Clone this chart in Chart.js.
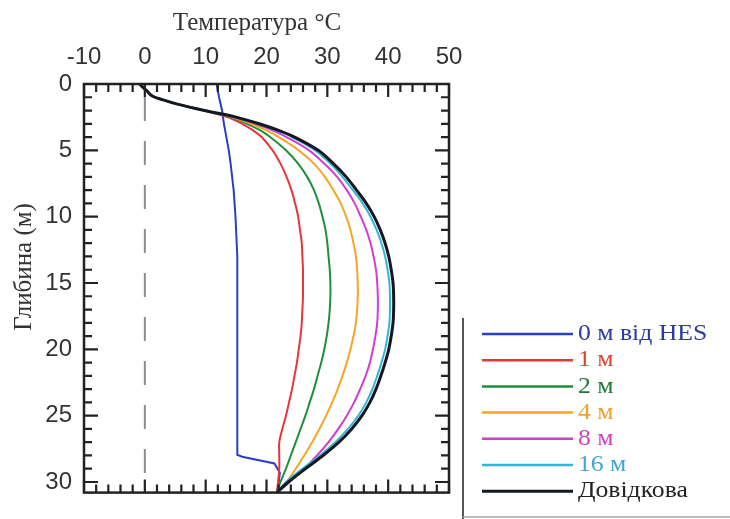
<!DOCTYPE html>
<html><head><meta charset="utf-8">
<script src="https://cdn.jsdelivr.net/npm/chart.js@4.4.0/dist/chart.umd.min.js"></script>
<style>html,body{margin:0;padding:0;background:#fff}#wrap{width:730px;height:519px;position:relative}</style>
</head><body><div id="wrap"><canvas id="c" width="730" height="519"></canvas></div>
<script>
// Depth (m) shared by the profiles
const depths = [0,0.5,0.9,1.2,1.5,2,2.5,3,3.5,4,5,6,7,8,9,10,11,12,13,14,15,16,17,18,19,20,21,22,23,24,25,26,27,28,29,30,30.8];
// common near-surface part (depth 0 .. 2 m)
const topPart = [-0.9,0.3,1.2,3.0,5.2,9.8];
const t1m  = topPart.concat([13.6,16.0,17.8,19.2,21.0,22.3,23.3,24.1,24.7,25.2,25.5,25.8,25.9,26.0,26.0,26.0,25.9,25.8,25.6,25.3,25.0,24.6,24.2,23.7,23.2,22.6,22.1,22.1,22.1,21.9,21.7]);
const t2m  = topPart.concat([14.0,16.8,19.0,20.6,23.2,25.2,26.7,27.8,28.6,29.2,29.7,30.0,30.2,30.4,30.5,30.5,30.4,30.2,29.9,29.5,29.0,28.4,27.8,27.1,26.4,25.6,24.8,24.0,23.2,22.3,21.7]);
const t4m  = topPart.concat([14.3,17.5,20.0,22.0,25.3,27.8,29.6,31.0,32.2,33.1,33.8,34.3,34.7,34.9,35.0,35.0,34.9,34.7,34.3,33.8,33.2,32.5,31.7,30.8,29.8,28.7,27.5,26.2,24.8,23.3,21.7]);
const t8m  = topPart.concat([14.6,18.2,21.0,23.3,27.0,29.5,31.6,33.2,34.5,35.5,36.4,37.1,37.6,38.0,38.2,38.3,38.3,38.2,37.9,37.5,37.0,36.3,35.4,34.4,33.2,31.8,30.2,28.3,26.2,23.8,21.7]);
const t16m = topPart.concat([14.9,18.6,21.7,24.2,28.0,30.5,32.5,34.2,35.8,37.1,38.1,38.9,39.5,39.9,40.2,40.3,40.3,40.2,39.9,39.5,38.9,38.2,37.4,36.4,35.1,33.4,31.3,28.8,25.9,23.2,21.7]);
const tRef = topPart.concat([15.0,18.8,22.0,24.6,28.5,31.0,33.1,34.8,36.4,37.7,38.7,39.5,40.1,40.5,40.8,40.9,40.9,40.8,40.5,40.1,39.5,38.8,38.0,37.0,35.7,34.0,31.9,29.3,26.4,23.6,21.7]);
// Profile right at the HES outlet
const depths0 = [0,1,2,3,4,5,6,8,10,13,20,27.95,28.1,28.6,29.3,30.8];
const t0m     = [11.8,12.2,12.7,13.0,13.4,13.8,14.1,14.6,14.9,15.2,15.2,15.2,16.0,21.3,22.2,21.8];
// zero-degree reference line
const zeroX = [0,0];
const zeroY = [0,30.8];

const labels = ['0 м від HES','1 м','2 м','4 м','8 м','16 м','Довідкова'];
const lineColors = ['#2b3fc4','#e8343c','#1f8f3a','#f5a623','#d23cd2','#33b5d6','#141820'];
const textColors = ['#2b3aa0','#e2402e','#1f7a35','#f0a030','#d040c0','#40a8d0','#222222'];

const xTicks = [-10,0,10,20,30,40,50];
const yTicks = [0,5,10,15,20,25,30];
const xTitle = 'Температура °C';
const yTitle = 'Глибина (м)';

function pts(xs, ys){ return xs.map((v,i)=>({x:v, y:ys[i]})); }
const series = [
  pts(t0m, depths0), pts(t1m, depths), pts(t2m, depths), pts(t4m, depths),
  pts(t8m, depths), pts(t16m, depths), pts(tRef, depths)
];

const datasets = series.map((d,i)=>({
  label: labels[i], data: d, showLine: true, borderColor: lineColors[i],
  borderWidth: i===6 ? 3 : 2, pointRadius: 0, tension: i===0 ? 0 : 0.35,
  order: 6 - i
}));
datasets.push({label:'', data: pts(zeroX, zeroY), showLine:true, borderColor:'#8c8c8c',
  borderWidth:2, borderDash:[24,20], borderDashOffset:31, pointRadius:0, order: 10});

const boxPlugin = {
  id: 'boxPlugin',
  afterDatasetsDraw(chart){
    const {ctx, chartArea:a, scales:{x, y}} = chart;
    ctx.save();
    ctx.strokeStyle = '#222'; ctx.lineWidth = 2.5;
    ctx.strokeRect(a.left, a.top, a.right-a.left, a.bottom-a.top);
    ctx.lineWidth = 2.2;
    ctx.beginPath();
    for (let v = x.min; v <= x.max + 1e-9; v += 2){
      const px = x.getPixelForValue(v);
      const len = (Math.round(v) % 10 === 0) ? 13 : 8;
      ctx.moveTo(px, a.top); ctx.lineTo(px, a.top+len);
      ctx.moveTo(px, a.bottom); ctx.lineTo(px, a.bottom-len);
    }
    for (let v = 0; v <= y.max + 1e-9; v += 1){
      const py = y.getPixelForValue(v);
      const len = (v % 5 === 0) ? 14 : 8;
      ctx.moveTo(a.left, py); ctx.lineTo(a.left+len, py);
      ctx.moveTo(a.right, py); ctx.lineTo(a.right-len, py);
    }
    ctx.stroke();
    ctx.restore();
  },
  afterDraw(chart){
    const {ctx, chartArea:a} = chart;
    ctx.save();
    // axis titles
    ctx.fillStyle = '#333';
    ctx.font = '25px "Liberation Serif"';
    ctx.textAlign = 'center'; ctx.textBaseline = 'middle';
    ctx.fillText(xTitle, 257, 23);
    ctx.translate(24, 267); ctx.rotate(-Math.PI/2);
    ctx.fillText(yTitle, 0, 0);
    ctx.restore();
    // legend box
    ctx.save();
    const lx = a.right + 14;
    ctx.strokeStyle = '#555'; ctx.lineWidth = 2;
    ctx.beginPath(); ctx.moveTo(lx, 318); ctx.lineTo(lx, 519); ctx.stroke();
    ctx.strokeStyle = '#aaa'; ctx.lineWidth = 1.5;
    ctx.beginPath(); ctx.moveTo(lx, 517); ctx.lineTo(730, 517); ctx.stroke();
    ctx.font = '24px "Liberation Serif"';
    ctx.textAlign = 'left'; ctx.textBaseline = 'middle';
    labels.forEach((lab,i)=>{
      const yy = 334 + i*26.2;
      ctx.strokeStyle = lineColors[i]; ctx.lineWidth = i===6 ? 3 : 2.5;
      ctx.beginPath(); ctx.moveTo(lx+19, yy); ctx.lineTo(lx+110, yy); ctx.stroke();
      ctx.fillStyle = textColors[i];
      ctx.save();
      ctx.translate(lx+115, yy); ctx.scale(1.07, 1);
      ctx.fillText(lab, 0, 0);
      ctx.restore();
    });
    ctx.restore();
  }
};

new Chart(document.getElementById('c'), {
  type: 'scatter',
  data: { datasets },
  options: {
    responsive: false, animation: false, devicePixelRatio: 1,
    layout: { padding: { left: 0, top: 0, right: 281, bottom: 3 } },
    plugins: { legend: { display: false }, tooltip: { enabled: false } },
    scales: {
      x: {
        type: 'linear', position: 'top', min: -10, max: 50,
        grid: { display: false, drawTicks: false }, border: { display: false },
        afterBuildTicks: s => { s.ticks = xTicks.map(v => ({ value: v })); },
        ticks: { autoSkip: false, maxRotation: 0, padding: 12,
          color: '#333', font: { family: '"Liberation Sans"', size: 24 },
          callback: v => String(v) },
        afterFit: s => { s.height = 84; }
      },
      y: {
        type: 'linear', position: 'left', reverse: true, min: 0, max: 30.8,
        grid: { display: false, drawTicks: false }, border: { display: false },
        afterBuildTicks: s => { s.ticks = yTicks.map(v => ({ value: v })); },
        ticks: { autoSkip: false, padding: 12,
          color: '#333', font: { family: '"Liberation Sans"', size: 24 },
          callback: v => String(v) },
        afterFit: s => { s.width = 84; }
      }
    }
  },
  plugins: [boxPlugin]
});
</script></body></html>
